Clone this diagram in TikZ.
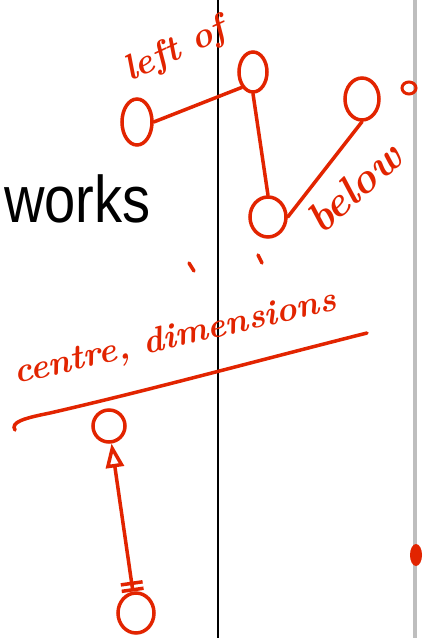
\documentclass[tikz,border=0pt]{standalone}
\usepackage{fontspec}
\newfontfamily\worksfont{Liberation Sans}
\usetikzlibrary{shapes.geometric,arrows.meta}
\definecolor{pen}{RGB}{226,36,0}
\definecolor{margin}{RGB}{190,190,190}
\begin{document}
\begin{tikzpicture}[x=1pt,y=-1pt,
  blob/.style={draw=pen, line width=3.5pt, ellipse, inner sep=0pt},
  ink/.style={draw=pen, line width=3.5pt, line cap=round},
  scrawl/.style={text=pen, font=\bfseries\itshape\fontsize{#1}{#1}\selectfont, inner sep=0pt, anchor=base west}]
\useasboundingbox[fill=white] (0,0) rectangle (423,638);
% page rules
\draw[line width=2pt] (218,0) -- (218,638);
\draw[margin, line width=4pt] (415,0) -- (415,638);
\node[anchor=base west, inner sep=0pt] (works) at (4,222) {\worksfont\fontsize{66}{70}\selectfont\scalebox{0.85}[1]{works}};
% circles
\node[blob, minimum width=30pt, minimum height=46pt] (A) at (137,122) {};
\node[blob, minimum width=28pt, minimum height=40pt] (B) at (253,72) {};
\node[blob, minimum width=34pt, minimum height=42pt] (C) at (362,99) {};
\node[blob, minimum width=36pt, minimum height=40pt] (D) at (268,217) {};
\node[blob, minimum width=32pt, minimum height=32pt] (E) at (109,426) {};
\node[blob, minimum width=36pt, minimum height=40pt] (F) at (136,613) {};
% notes
\node[scrawl=36, rotate=25] (leftof) at (130,82) {left of};
\node[scrawl=42, rotate=42] (below) at (322,236) {below};
\node[scrawl=35, rotate=13] (centre) at (16,384) {centre, dimensions};
\draw[ink] (15,430) .. controls (10,422) and (25,418) .. (50,413) .. controls (150,390) and (260,360) .. (367,333);
\draw[ink] (189,263) -- (194,271);
\draw[ink] (258,255) -- (262,263);
\draw[pen, line width=3pt] (409,88) ellipse [x radius=7, y radius=6];
\fill[pen] (416,555) ellipse [x radius=6, y radius=11];
% links
\draw[ink] (A.east) -- (B.south west);
\draw[ink] (B.south) -- (D.north);
\draw[ink] (D.east) -- (C.south);
\draw[ink, {Triangle[open,length=24pt,width=18pt]}-{Bar[width=22pt,sep=3pt]Bar[width=22pt]}] (E) -- (F);
\end{tikzpicture}
\end{document}
